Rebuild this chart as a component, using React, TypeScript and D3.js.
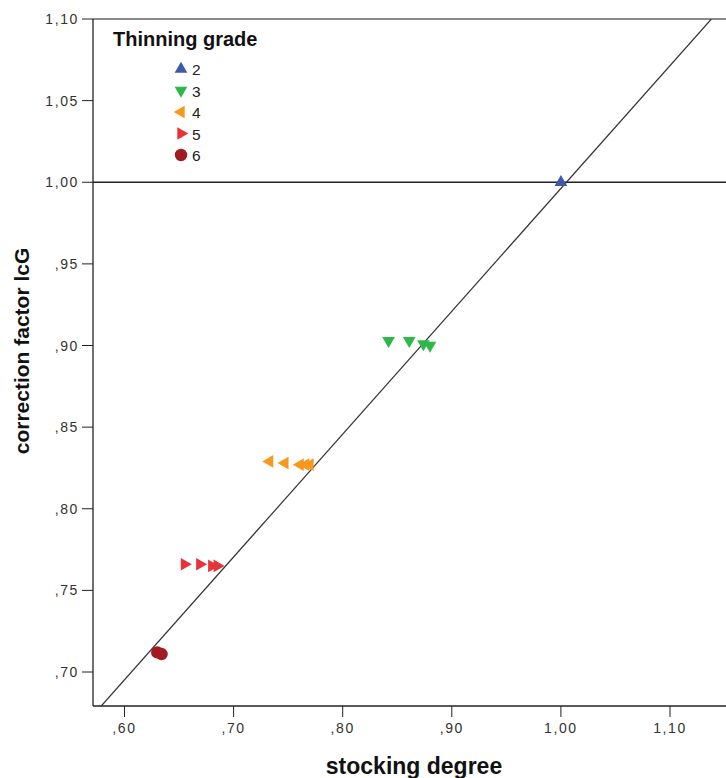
import React from "react";
import * as d3 from "d3";

// thinning grade groups: stocking degree (x) and correction factor lcG (y)
const grades = ["2", "3", "4", "5", "6"];
const gradeColors = ["#3e58ac", "#2eb848", "#f8981d", "#e8323a", "#a01c22"];
const gradeShapes = ["up", "down", "left", "right", "circle"];

const stocking2 = [1.0];
const factor2 = [1.0];
const stocking3 = [0.842, 0.861, 0.874, 0.88];
const factor3 = [0.903, 0.903, 0.901, 0.9];
const stocking4 = [0.733, 0.747, 0.761, 0.766, 0.77];
const factor4 = [0.829, 0.828, 0.827, 0.827, 0.827];
const stocking5 = [0.655, 0.669, 0.68, 0.685];
const factor5 = [0.766, 0.766, 0.765, 0.765];
const stocking6 = [0.63, 0.634];
const factor6 = [0.712, 0.711];

const xTicks = [0.6, 0.7, 0.8, 0.9, 1.0, 1.1];
const yTicks = [0.7, 0.75, 0.8, 0.85, 0.9, 0.95, 1.0, 1.05, 1.1];

// reference lines
const fitIntercept = 0.2437;
const fitSlope = 0.7525;
const refY = 1.0;

const stockingSeries = [stocking2, stocking3, stocking4, stocking5, stocking6];
const factorSeries = [factor2, factor3, factor4, factor5, factor6];

const fmt = (v: number) => {
  const s = v.toFixed(2).replace(".", ",");
  return s.startsWith("0") ? s.slice(1) : s;
};

const left = 93,
  top = 19,
  bottom = 706,
  right = 760;

const x = d3
  .scaleLinear()
  .domain([0.6, 1.1])
  .range([124.5, 670]);
const y = d3
  .scaleLinear()
  .domain([0.7, 1.1])
  .range([672, top]);

const xMin = x.invert(left);
const xMax = x.invert(right);
const yMin = y.invert(bottom);

function Marker({ shape, color, cx, cy }: any) {
  if (shape === "circle") {
    return <circle cx={cx} cy={cy} r={6.2} fill={color} />;
  }
  const rot = { up: 0, down: 180, left: -90, right: 90 }[shape as string];
  const path = d3.symbol().type(d3.symbolTriangle).size(70)() as string;
  return (
    <path
      d={path}
      fill={color}
      transform={`translate(${cx},${cy}) rotate(${rot})`}
    />
  );
}

export default function App() {
  // clip fit line to plot region
  const fx0 = Math.max(xMin, (yMin - fitIntercept) / fitSlope);
  const fx1 = Math.min(xMax, (1.1 - fitIntercept) / fitSlope);

  return (
    <svg
      width={726}
      height={778}
      style={{ position: "absolute", left: 0, top: 0, background: "#fff" }}
      fontFamily="'Liberation Sans', Arial, sans-serif"
    >
      <defs>
        <clipPath id="plot">
          <rect x={left} y={top} width={right - left} height={bottom - top} />
        </clipPath>
      </defs>

      {/* frame */}
      <line x1={left} x2={right} y1={top} y2={top} stroke="#8a8a8a" strokeWidth={2} />

      {/* reference lines */}
      <g clipPath="url(#plot)">
        <line
          x1={left}
          x2={right}
          y1={y(refY)}
          y2={y(refY)}
          stroke="#222"
          strokeWidth={1.3}
        />
        <line
          x1={x(fx0)}
          y1={y(fitIntercept + fitSlope * fx0)}
          x2={x(fx1)}
          y2={y(fitIntercept + fitSlope * fx1)}
          stroke="#333"
          strokeWidth={1.2}
        />
      </g>

      {/* points */}
      {stockingSeries.map((xs, gi) =>
        xs.map((v, i) => (
          <Marker
            key={`${gi}-${i}`}
            shape={gradeShapes[gi]}
            color={gradeColors[gi]}
            cx={x(v)}
            cy={y(factorSeries[gi][i])}
          />
        ))
      )}

      {/* axes */}
      <line x1={left} x2={left} y1={top} y2={bottom} stroke="#222" strokeWidth={1.3} />
      <line x1={left} x2={right} y1={bottom} y2={bottom} stroke="#222" strokeWidth={1.3} />

      {yTicks.map((t) => (
        <g key={t}>
          <line x1={left - 11} x2={left} y1={y(t)} y2={y(t)} stroke="#222" />
          <text
            x={left - 14}
            y={y(t) + 5}
            textAnchor="end"
            fontSize={14}
            letterSpacing={1.6}
            fill="#333"
          >
            {fmt(t)}
          </text>
        </g>
      ))}
      {xTicks.map((t) => (
        <g key={t}>
          <line x1={x(t)} x2={x(t)} y1={bottom} y2={bottom + 11} stroke="#222" />
          <text
            x={x(t)}
            y={bottom + 27}
            textAnchor="middle"
            fontSize={14}
            letterSpacing={1.6}
            fill="#333"
          >
            {fmt(t)}
          </text>
        </g>
      ))}

      <text
        x={414}
        y={774}
        textAnchor="middle"
        fontSize={23}
        fontWeight="bold"
        fill="#111"
      >
        stocking degree
      </text>
      <text
        transform={`translate(29,351) rotate(-90)`}
        textAnchor="middle"
        fontSize={21}
        fontWeight="bold"
        fill="#111"
      >
        correction factor lcG
      </text>

      {/* legend */}
      <text x={113} y={46} fontSize={20} fontWeight="bold" fill="#111">
        Thinning grade
      </text>
      {grades.map((g, i) => (
        <g key={g} transform={`translate(181,${69 + i * 21.5})`}>
          <Marker shape={gradeShapes[i]} color={gradeColors[i]} cx={0} cy={0} />
          <text x={11} y={6} fontSize={15.5} fill="#222">
            {g}
          </text>
        </g>
      ))}
    </svg>
  );
}
